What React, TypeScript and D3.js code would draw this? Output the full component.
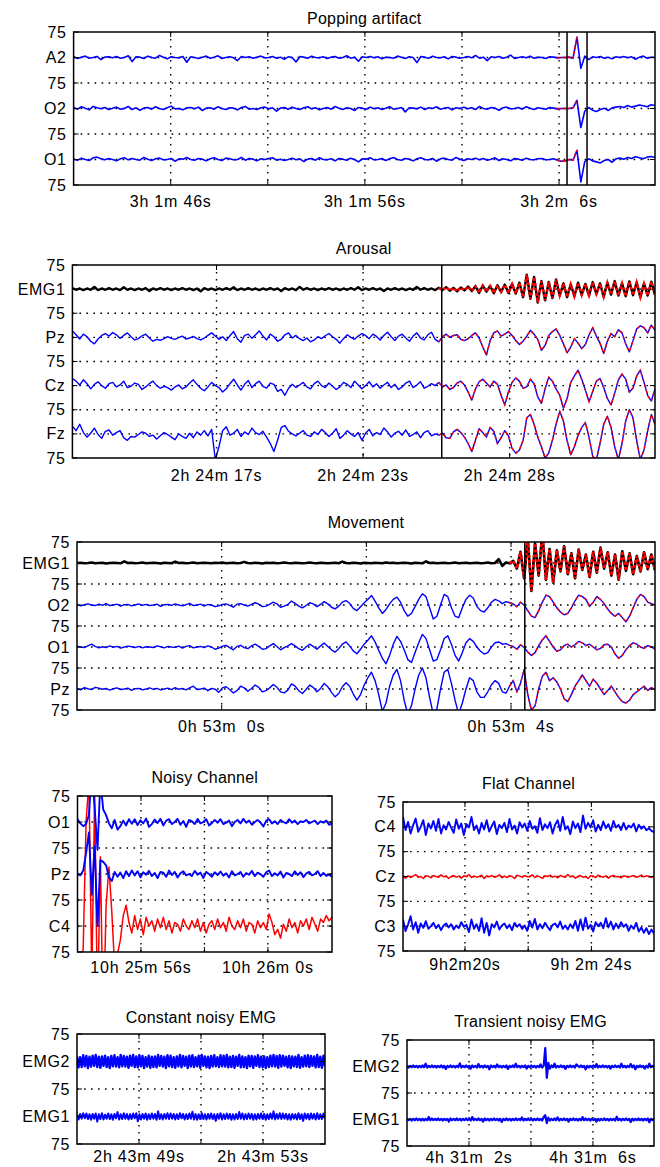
import * as d3 from "d3";
import { useEffect, useRef } from "react";

// ---------- Popping artifact (µV, channels top to bottom) ----------
const popChannels = ["A2", "O2", "O1"];
const popTicks = [5, 10, 15, 20, 25];
const popTickLabels = ["3h 1m 46s", "", "3h 1m 56s", "", "3h 2m  6s"];
const popMarkers = [25.41, 26.44];
const popA2 = [
  2, -3, 1, 4, -2, 0, 3, -6, 1, 2,
  -1, 3, -2, 0, 5, -12, 2, 1, -3, 4,
  0, -2, 6, 1, -4, 2, 0, -1, 3, -14,
  2, 0, -3, 1, 4, -2, 1, 5, -3, 0,
  2, -1, -9, 3, 0, 2, -2, 1, 4, -1,
  0, 3, -2, 1, -5, 2, 0, -13, 3, 1,
  -2, 4, 0, -1, 2, -3, 1, 3, -2, 0,
  5, -2, 1, -11, 2, 0, 3, -1, 2, -4,
  1, 0, -2, 4, 1, -3, 2, 0, -15, 3,
  1, -2, 4, 0, -1, 2, -4, 3, 1, -2,
  0, 3, -1, 6, -2, 1, -9, 2, 0, 3,
  -2, 1, 7, -3, 0, 2, -1, 4, -2, 1,
  0, -3, 2, 1, -1, 0, 0, 1, -2, 60,
  -32, 4, -6, 2, 0, 3, -2, 1, -4, 2,
  0, 3, -1, 2, -5, 1, 4, -2, 1, 0,
];
const popO2 = [
  3, -2, 5, 1, -4, 6, 2, -1, 3, -3,
  1, 4, -2, 0, 6, -3, 2, -5, 1, 3,
  -2, 5, 0, -3, 2, 7, -1, 0, -4, 2,
  3, -1, 4, -6, 1, 2, -2, 5, 0, -3,
  2, 1, -4, 3, 6, -2, 0, -3, 2, 4,
  -1, 2, -8, 1, 3, -2, 4, 0, -3, 2,
  5, -1, 2, -4, 0, 3, -2, 6, 1, -3,
  2, 0, -6, 3, 1, -2, 4, -1, 2, -3,
  1, 5, -2, 0, 3, -10, 2, 1, -1, 4,
  -3, 2, 0, 5, -2, 1, 3, -4, 2, 0,
  4, -1, 2, -3, 6, 0, -2, 3, 1, -5,
  2, 4, -1, 0, 3, -2, 5, 1, -3, 2,
  0, -2, 3, 1, -1, 0, 0, 0, 2, 24,
  -56, -8, 3, -5, -9, -3, 1, -6, 2, 4,
  6, 3, 9, 4, 7, 10, 8, 5, 11, 9,
];
const popO1 = [
  1, -2, 4, 0, -3, 5, 7, 2, -1, 3,
  0, -4, 2, 5, -1, 3, 0, -2, 6, 1,
  -3, 2, 4, -1, 0, 3, -5, 2, 1, 6,
  0, -2, 3, 1, -4, 2, 5, 0, -3, 4,
  2, -1, 0, 6, -2, 3, 1, -4, 2, 0,
  3, 5, -2, 1, -3, 0, 4, -1, 2, -6,
  1, 3, -2, 5, 0, -1, 2, -4, 3, 1,
  -2, 4, 0, -7, 2, 1, 5, -1, 0, 3,
  -3, 2, 6, 0, -2, 3, 1, -4, 2, 5,
  0, -1, 3, -5, 2, 4, 0, -2, 6, 1,
  -3, 2, 0, 4, -1, 3, -2, 1, 5, -3,
  2, 0, -4, 3, 1, -2, 4, 0, -1, 2,
  3, -1, 0, 2, -2, -5, -4, 0, -2, 27,
  -66, -6, 2, -4, -7, -10, -3, 0, -8, 2,
  4, 1, 6, 3, 8, 5, 2, 7, 9, 6,
];

// ---------- Arousal ----------
const arChannels = ["EMG1", "Pz", "Cz", "Fz"];
const arTicks = [5.9, 11.9, 17.9];
const arTickLabels = ["2h 24m 17s", "2h 24m 23s", "2h 24m 28s"];
const arMarkers = [15.12];
const arEMG1 = [
  3, -2, 2, -3, 2, -2, 7, -3, 2, -2,
  3, -2, 2, -3, 6, -2, 2, -3, 2, -2,
  3, -6, 2, -2, 3, -2, 2, -3, 2, -2,
  3, -2, 2, -3, 2, -7, 3, -2, 2, -3,
  2, -2, 3, -2, 6, -3, 2, -2, 3, -2,
  2, -3, 2, -2, 3, -2, 2, -6, 3, -2,
  2, -3, 7, -2, 3, -2, 2, -3, 2, -2,
  3, -2, 2, -3, 2, -2, 3, -2, 6, -3,
  2, -2, 3, -2, 2, -6, 2, -2, 3, -2,
  2, -3, 2, -2, 7, -2, 3, -2, 2, -3,
  4, -3, 6, -5, 4, -7, 5, -4, 8, -6,
  9, -12, 11, -8, 10, -13, 12, -9, 14, -12,
  16, -14, 20, -25, 45, -30, 38, -42, 25, -35,
  22, -28, 30, -20, 18, -25, 15, -22, 20, -18,
  16, -20, 22, -15, 18, -24, 20, -17, 25, -20,
  18, -22, 24, -19, 21, -25, 17, -20, 23, -18,
];
const arPz = [
  20, 8, -5, 10, 2, -12, -20, -5, 6, 12,
  4, 15, 8, -3, 6, 14, 2, -8, -4, 5,
  10, -2, -12, -6, -9, -4, 2, -3, -6, -1,
  4, -5, -2, 3, -4, -8, -2, 6, 14, 4,
  -6, 2, -10, 5, 18, -4, -15, 6, 10, -3,
  8, 20, 4, -8, 10, 2, -12, -6, 8, 14,
  -2, 6, -4, -10, -2, -14, -8, 2, -4, 5,
  12, 2, -6, -18, -4, 8, 0, -6, 4, 12,
  6, -4, 10, 3, -8, 6, 16, 2, -10, 4,
  10, -2, -12, 4, 14, -2, -8, 8, 16, -6,
  -14, 2, 10, 0, 6, 8, -6, -10, -4, 6,
  14, -2, -30, -55, -10, 14, 20, 4, 10, 18,
  6, -10, -22, -12, 4, 22, 10, -6, -40, -25,
  6, 18, 26, 6, -20, -48, -30, -4, -18, -35,
  -22, 8, 30, 4, -18, -50, -12, 12, 2, 24,
  14, -20, -45, -10, 26, 36, 30, 14, 38, 22,
];
const arCz = [
  22, 14, 2, 18, 6, -10, 4, 12, 0, -8,
  6, 10, -4, 2, 14, -6, -2, 8, 4, -12,
  -4, 6, 14, 0, -8, -2, -6, -14, -4, 2,
  -10, -4, 8, 18, 4, -8, -16, -4, 10, 0,
  -6, -20, -10, 6, 20, 2, -14, 4, 16, -6,
  6, 14, -2, -8, 8, 4, -18, -12, -30, -8,
  4, -6, 2, 10, -4, -10, 6, 14, 0, -6,
  8, -2, -12, -4, 10, 4, -6, 14, 2, -10,
  0, 12, -4, 6, -8, 2, 10, -6, 4, -12,
  -4, 8, 14, -6, 2, 12, -8, -2, 6, 0,
  10, -4, 2, -12, -6, 8, 14, 2, -20, -45,
  -10, 12, 20, 8, -4, 14, 4, -30, -60, -20,
  10, 24, 14, -8, -4, 20, 6, -35, -55, -10,
  26, 14, -10, -30, -70, -40, 10, 30, 48, 20,
  -14, -50, -18, 14, 22, -6, -40, -60, -24, 18,
  36, 20, -20, -8, 30, 48, 10, -30, -48, -10,
];
const arFz = [
  24, 10, 30, 4, -10, 2, 18, -2, -14, 8,
  12, -4, 4, 10, -12, -20, -8, -10, -2, 6,
  2, -8, -4, -16, -6, 4, -2, -10, -18, 0,
  -8, -14, 2, -12, 6, -4, 10, -6, 14, -80,
  -40, 10, 22, -4, 2, 14, -8, 6, -2, 18,
  4, -2, 8, -10, -30, -55, -20, 20, 26, 8,
  0, -6, 2, 10, -4, -8, 6, -2, 14, 4,
  -8, 2, 16, -14, -4, 10, 0, -8, 4, -20,
  2, 14, -6, 4, -2, 18, 6, -10, 2, 8,
  -4, 12, -8, -2, 6, -12, 4, 10, -6, 0,
  -4, 2, -12, -14, 6, 14, 4, -10, -30, -55,
  -20, 16, 4, -10, 20, 8, -30, -12, 10, -6,
  -45, -60, -50, -20, 50, 60, 30, -10, -40, -75,
  -60, -20, 30, 70, 40, -20, -65, -40, -5, 20,
  35, -10, -70, -80, -30, 30, 55, 20, -40, -80,
  -30, 40, 75, 50, -20, -80, -50, 10, 60, 30,
];

// ---------- Movement ----------
const mvChannels = ["EMG1", "O2", "O1", "Pz"];
const mvTicks = [2, 4, 6];
const mvTickLabels = ["0h 53m  0s", "", "0h 53m  4s"];
const mvMarkers = [6.19];
const mvEMG1 = [
  0, 1, -1, 0, 2, -1, 0, 1, -2, 0,
  1, 0, -1, 6, 0, 1, -1, 0, 2, -1,
  0, 1, 0, -2, 1, 0, -1, 5, 0, 1,
  -1, 0, 2, -1, 0, 1, 0, -1, 1, 0,
  2, -1, 0, 1, -1, 0, 4, 0, -1, 1,
  0, -2, 1, 0, 1, -1, 0, 2, 0, -1,
  1, 0, -1, 0, 2, 0, -1, 1, 0, -1,
  0, 1, -1, 5, 0, -1, 1, 0, -2, 1,
  0, -1, 1, 0, -1, 2, 0, 1, -1, 0,
  1, 0, -2, 1, 0, -1, 6, 0, 1, -1,
  0, 1, -1, 0, 2, -1, 0, 1, -1, 0,
  1, -1, 0, 2, -1, 0, 14, -10, 2, -1,
  8, -20, 40, -55, 90, -100, 70, -45, 110, -60,
  50, -70, 45, -30, 60, -40, 35, -55, 48, -25,
  30, -50, 40, -35, 55, -20, 38, -45, 30, -60,
  42, -28, 35, -40, 25, -30, 38, -22, 30, -26,
];
const mvO2 = [
  2, -3, 1, 4, 0, -2, 3, -1, 5, -2,
  0, 3, -4, 1, 2, -3, 0, 4, -1, 2,
  -2, 0, 3, -5, 1, 2, -1, 4, 0, -3,
  1, 6, -2, 0, 3, -4, 2, 0, -6, -3,
  2, 4, -1, -8, 3, 5, 0, -4, 2, 8,
  3, -6, -4, 2, 10, 4, -8, -4, 2, 14,
  6, -4, -10, -2, 8, 4, -6, 2, 12, 4,
  -8, -14, -4, 10, 16, 6, -12, -20, -6, 8,
  20, 34, 14, -10, -30, -16, 4, 20, 28, 10,
  -20, -40, -30, -6, 20, 40, 30, -10, -50, -40,
  0, 38, 30, -10, -40, -45, -10, 20, 35, 25,
  -5, -20, -25, -10, 10, 20, 15, 5, 12, 8,
  4, -6, 10, 0, -20, -40, -45, -20, 10, 35,
  30, 10, -10, -25, -35, -30, -10, 15, 35, 30,
  20, -5, 10, 30, 20, 5, -15, -30, -40, -30,
  -45, -60, -40, -10, 20, 38, 30, 10, 5, 0,
];
const mvO1 = [
  3, 0, -2, 4, 10, 2, -3, 1, -2, 4,
  -1, 2, -4, 0, 3, 1, -2, 2, -3, 1,
  0, -2, 4, 1, -3, 2, 0, -1, 3, -4,
  2, 5, -3, 0, 2, -2, 4, 0, -8, -4,
  3, 6, -2, -10, 2, 6, -2, -6, 4, 10,
  2, -8, -6, 4, 12, 2, -10, -2, 4, 12,
  4, -6, -12, 0, 10, 2, -8, 4, 14, 2,
  -10, -18, -6, 10, 18, 4, -14, -24, -8, 10,
  24, 40, 18, -12, -40, -60, -30, 10, 38, 20,
  -10, -45, -55, -20, 15, 45, 30, -10, -50, -45,
  -10, 30, 40, 10, -30, -50, -20, 15, 30, 20,
  0, -15, -25, -20, 0, 15, 18, 10, 12, 6,
  2, -8, 8, -2, -18, -30, -20, 5, 25, 40,
  20, 0, -15, -10, 5, 10, 0, 8, 20, 15,
  5, 10, 0, -10, -5, 8, 10, 0, -25, -40,
  -30, -10, 5, 15, 10, 0, -5, 5, 0, -8,
];
const mvPz = [
  2, -3, 5, 1, -2, 6, 3, -1, 2, -4,
  1, 4, -2, 0, 3, -5, 1, 2, -3, 0,
  4, -1, 2, -3, 0, 3, -2, 5, -1, 2,
  -3, 4, 10, -2, 0, 3, -6, 2, -1, -12,
  4, 8, -2, -14, -6, 10, 4, -8, 2, 14,
  6, -10, -6, 4, 16, 6, -10, -14, -4, 18,
  10, -6, -16, -2, 14, 6, -10, 2, 20, 8,
  -12, -28, -16, 8, 22, 10, -18, -40, -20, 14,
  40, 60, 30, -20, -80, -50, 10, 50, 70, 30,
  -40, -90, -60, 0, 50, 75, 40, -30, -90, -70,
  0, 60, 70, 20, -40, -90, -50, 0, 40, 30,
  -10, -30, -30, -10, 15, 30, 20, -10, -15, 10,
  30, -10, 20, 70, -20, -75, -60, 0, 45, 60,
  30, 40, 25, 0, -35, -45, -20, 10, 30, 50,
  30, 10, 35, 20, 0, -20, -5, 10, -10, -30,
  -45, -50, -40, -20, -10, 0, 10, -5, 5, -3,
];

// ---------- Noisy Channel ----------
const nzChannels = ["O1", "Pz", "C4"];
const nzTicks = [2, 4, 6];
const nzTickLabels = ["10h 25m 56s", "", "10h 26m 0s"];
const nzO1 = [
  8, -4, -12, -6, 20, 150, 40, -80, 120, 36,
  20, -4, -18, 6, -22, -12, 4, -10, 8, -5,
  8, -9, 5, -4, 10, -14, -6, 7, -3, 9,
  -10, 4, 8, -6, 0, 9, -8, 3, -14, 6,
  2, -6, 9, -4, 0, 8, -10, -3, 6, -2,
  8, -6, -2, 4, -12, 0, 6, -4, 9, -2,
  4, -8, 0, 6, -2, -13, 4, 8, -4, 2,
  -6, 6, 0, -4, 8, -2, 4, -6, 2, 0,
  6, -4, 0, 4, -6, 2, -2, 4, -8, -4,
];
const nzPz = [
  0, -4, 10, 60, 120, -60, 80, -150, 40, 35,
  25, -10, -20, 6, -8, 4, -12, 8, -6, 10,
  -4, 8, -10, 5, -2, 9, -6, 3, -12, 6,
  4, -8, 10, -3, 6, -10, 2, 8, -4, 0,
  -6, 9, -2, 4, -12, 6, 0, -8, 5, -3,
  7, -5, 2, -10, 8, -4, 0, 6, -8, 3,
  -2, 9, -6, 4, -1, -8, 5, 10, -6, 2,
  -4, 7, -10, 3, 0, -6, 8, -3, 5, -9,
  2, 6, -4, 0, 8, -6, 3, -5, -2, -8,
];
const nzC4 = [
  -120, -220, -60, 300, 420, -150, 380, -250, 200, -300,
  60, 170, 40, -120, -80, -40, 30, 60, 10, -20,
  30, -10, 20, -25, 25, 0, 15, -15, 20, -5,
  25, -10, 15, -20, 10, 5, -15, 20, 0, -10,
  15, -5, 20, -15, 10, -20, 5, 15, -10, 20,
  -5, 10, -15, 25, 0, -10, 15, -5, 20, -15,
  10, 5, -20, 15, -5, 10, -10, 35, 10, -25,
  -10, -35, 5, -15, 20, -5, 10, -20, 15, 0,
  20, -10, 25, 5, -15, 20, 10, 30, 15, 25,
];

// ---------- Flat Channel ----------
const flChannels = ["C4", "Cz", "C3"];
const flTicks = [1.96, 3.96, 5.96];
const flTickLabels = ["9h2m20s", "", "9h 2m 24s"];
const flC4 = [
  30, -10, 15, -20, 5, 25, -15, 0, 20, -25,
  10, -5, 18, -12, 24, -20, 5, -8, 15, -3,
  -18, 22, -6, 10, -25, 8, -2, 30, -10, 4,
  -20, 12, -8, 20, -14, 2, 16, -22, 6, -4,
  12, -16, 24, -8, 4, -20, 14, -2, 10, -12,
  18, -6, 2, -18, 26, -10, 8, -4, 14, -20,
  6, 20, -12, 30, -8, 2, -22, 16, -4, 10,
  -16, 34, -6, 12, -2, 20, -14, 6, -10, 16,
  -4, 8, -12, 18, -2, 6, -10, 12, -8, 4,
  -2, 10, -14, 6, -6, 2, -10, -4, -12, -16,
];
const flCz = [
  0, -5, 2, -3, 1, 6, -2, 0, -6, 2,
  1, -4, 3, 0, -2, 5, -1, 2, -6, 0,
  3, -2, 1, -5, 2, 0, 6, -3, 1, -2,
  0, 4, -6, 2, -1, 3, -2, 0, 5, -4,
  1, -3, 2, 0, -6, 4, 1, -2, 3, -1,
  0, 5, -3, 2, -1, -6, 2, 0, 4, -2,
  1, -4, 3, 0, -2, 6, -1, 2, -5, 0,
  3, -2, 0, -6, 2, 1, -3, 4, 0, -2,
  2, -5, 1, 3, -1, 0, -4, 2, 0, -2,
  1, 3, -2, 0, 4, -1, 2, 0, -3, 1,
];
const flC3 = [
  20, -15, 5, 30, -10, 12, -20, 8, -5, 15,
  -8, 0, 10, -6, 4, -12, 2, 8, -4, 6,
  -10, 2, -6, 12, -2, 4, -18, 20, -8, 6,
  -14, 24, -20, 10, -28, 6, -4, 14, -10, 2,
  8, -6, 4, -12, 10, -2, 6, -8, 2, -14,
  16, -4, 22, -10, 6, -6, 10, -2, -12, 4,
  8, -4, 14, -8, 2, -10, 6, -6, 16, -14,
  20, -12, 26, -8, 4, -16, 12, 0, 10, -6,
  24, -4, 14, -10, 8, -6, 12, -2, 6, -14,
  2, -8, 10, -16, -4, -20, -6, -24, -10, -22,
];

// ---------- Constant noisy EMG ----------
const ceChannels = ["EMG2", "EMG1"];
const ceTicks = [2, 4, 6];
const ceTickLabels = ["2h 43m 49s", "", "2h 43m 53s"];
const ceEMG2 = [
  14, -16, 12, -15, 17, -13, 15, -18, 13, -14,
  16, -12, 18, -15, 13, -17, 14, -12, 16, -15,
  12, -18, 15, -13, 17, -14, 12, -16, 18, -13,
  15, -14, 13, -17, 16, -12, 18, -15, 14, -16,
  17, -13, 15, -18, 12, -14, 16, -17, 13, -15,
  14, -16, 18, -12, 15, -14, 13, -18, 17, -13,
  16, -15, 12, -17, 14, -13, 18, -16, 15, -12,
  13, -18, 16, -14, 17, -15, 12, -13, 16, -17,
  18, -12, 14, -16, 13, -18, 15, -14, 17, -13,
  12, -15, 17, -13, 16, -14, 18, -16, 13, -15,
  15, -17, 13, -12, 18, -16, 14, -15, 12, -18,
  16, -13, 15, -17, 14, -12, 17, -15, 13, -16,
  14, -18, 12, -15, 16, -13, 18, -14, 15, -17,
  17, -14, 16, -12, 13, -16, 15, -18, 14, -13,
  13, -15, 18, -17, 12, -14, 16, -13, 17, -15,
  15, -12, 14, -16, 18, -15, 13, -17, 16, -14,
];
const ceEMG1 = [
  6, -8, 7, -6, 9, -5, 8, -7, 6, -9,
  7, -6, 8, -14, 6, -7, 9, -8, 5, -6,
  8, -7, 6, -9, 7, -5, 12, -8, 6, -7,
  9, -6, 7, -8, 6, -7, 8, -5, 9, -13,
  6, -8, 7, -6, 8, -9, 6, -7, 8, -6,
  7, -9, 14, -7, 6, -8, 7, -6, 9, -7,
  8, -6, 7, -8, 6, -7, 9, -5, 7, -8,
  6, -7, 8, -6, 13, -8, 7, -9, 6, -7,
  9, -7, 6, -8, 7, -6, 8, -7, 6, -12,
  7, -6, 9, -8, 6, -7, 8, -6, 7, -9,
  6, -8, 7, -7, 12, -6, 8, -8, 6, -7,
  8, -6, 7, -9, 6, -8, 7, -6, 8, -7,
  7, -9, 6, -7, 8, -6, 14, -8, 7, -6,
  9, -7, 8, -6, 7, -8, 6, -9, 7, -6,
  6, -8, 9, -7, 6, -12, 8, -6, 7, -8,
  8, -6, 7, -8, 9, -7, 6, -7, 8, -6,
];

// ---------- Transient noisy EMG ----------
const trChannels = ["EMG2", "EMG1"];
const trTicks = [2, 4, 6];
const trTickLabels = ["4h 31m  2s", "", "4h 31m  6s"];
const trEMG2 = [
  2, -3, 2, -2, 3, -2, 2, -3, 2, -2,
  3, -2, 8, -3, 2, -2, 3, -2, 2, -3,
  2, -2, 3, -3, 2, -7, 2, -2, 3, -2,
  2, -3, 2, -2, 9, -3, 2, -2, 3, -2,
  2, -6, 3, -2, 2, -3, 7, -2, 2, -3,
  3, -2, 2, -8, 3, -2, 2, -3, 6, -2,
  2, -3, 2, -2, 3, -7, 2, -2, 3, -2,
  8, -2, 2, -3, 2, -2, 3, -6, 2, -2,
  3, -2, 2, -3, 2, -2, 6, -3, 2, 52,
  -32, 10, -6, 3, -2, 8, -3, 2, -2, 3,
  -2, 2, -7, 2, -2, 3, -2, 2, -3, 6,
  2, -2, 3, -2, 2, -8, 2, -3, 2, -2,
  3, -2, 7, -3, 2, -2, 3, -2, 2, -3,
  2, -6, 2, -2, 3, -2, 2, -3, 8, -2,
  2, -3, 2, -2, 7, -2, 3, -8, 2, -2,
  3, -2, 2, -6, 2, -3, 8, -2, 2, -3,
];
const trEMG1 = [
  3, -2, 2, -3, 2, -2, 3, -2, 2, -3,
  2, -3, 2, -2, 7, -2, 3, -2, 2, -2,
  3, -2, 2, -3, 2, -2, 2, -6, 3, -2,
  2, -2, 3, -2, 2, -3, 2, -2, 3, -2,
  2, -3, 7, -2, 2, -2, 3, -2, 2, -6,
  3, -2, 2, -3, 2, -2, 3, -2, 2, -3,
  2, -7, 2, -2, 3, -2, 2, -3, 2, -2,
  3, -2, 2, -2, 6, -3, 2, -2, 3, -2,
  2, -3, 2, -2, 3, -2, 2, -3, 7, 12,
  -10, 5, -3, 2, -2, 3, -2, 6, -3, 2,
  -2, 3, -2, 2, -6, 2, -2, 3, -2, 2,
  -3, 2, -2, 7, -2, 3, -2, 2, -3, 2,
  -2, 2, -6, 2, -3, 2, -2, 3, -2, 2,
  -3, 2, -2, 2, -3, 8, -2, 2, -3, 2,
  -2, 3, -2, 2, -7, 2, -3, 2, -2, 3,
  -2, 2, -3, 2, -2, 3, -8, 2, -2, 3,
];

const BLUE = "#0000ff";
const RED = "#ff0000";
const FONT = "'Liberation Sans', Arial, Helvetica, sans-serif";

type Overlay = { from: number; to: number; color: string; dash?: string };
type Trace = { ch: number; values: number[]; color: string; w?: number; over?: Overlay };
type Panel = {
  title: string; titleY: number;
  left: number; right: number; top: number; bottom: number;
  duration: number; channels: string[];
  ticks: number[]; tickLabels: string[]; labelY: number;
  markers: number[]; traces: Trace[];
};

const panels: Panel[] = [
  {
    title: "Popping artifact", titleY: 18,
    left: 73.6, right: 655, top: 32, bottom: 185, duration: 29.94,
    channels: popChannels, ticks: popTicks, tickLabels: popTickLabels, labelY: 201,
    markers: popMarkers,
    traces: [
      { ch: 0, values: popA2, color: BLUE, w: 1.6, over: { from: 25.0, to: 26.1, color: RED, dash: "3 2" } },
      { ch: 1, values: popO2, color: BLUE, w: 1.6, over: { from: 25.0, to: 26.1, color: RED, dash: "3 2" } },
      { ch: 2, values: popO1, color: BLUE, w: 1.6, over: { from: 25.0, to: 26.1, color: RED, dash: "3 2" } },
    ],
  },
  {
    title: "Arousal", titleY: 248,
    left: 72.4, right: 655, top: 265, bottom: 458, duration: 23.85,
    channels: arChannels, ticks: arTicks, tickLabels: arTickLabels, labelY: 475,
    markers: arMarkers,
    traces: [
      { ch: 0, values: arEMG1, color: "#000", w: 2.4, over: { from: 15.12, to: 99, color: RED, dash: "3 2" } },
      { ch: 1, values: arPz, color: BLUE, w: 1.4, over: { from: 15.12, to: 99, color: RED, dash: "3 3" } },
      { ch: 2, values: arCz, color: BLUE, w: 1.4, over: { from: 15.12, to: 99, color: RED, dash: "3 3" } },
      { ch: 3, values: arFz, color: BLUE, w: 1.4, over: { from: 15.12, to: 99, color: RED, dash: "3 3" } },
    ],
  },
  {
    title: "Movement", titleY: 522,
    left: 77, right: 655, top: 542, bottom: 710, duration: 7.99,
    channels: mvChannels, ticks: mvTicks, tickLabels: mvTickLabels, labelY: 726,
    markers: mvMarkers,
    traces: [
      { ch: 0, values: mvEMG1, color: "#000", w: 2.6, over: { from: 6.0, to: 99, color: RED, dash: "3 2" } },
      { ch: 1, values: mvO2, color: BLUE, w: 1.4, over: { from: 6.0, to: 99, color: RED, dash: "3 3" } },
      { ch: 2, values: mvO1, color: BLUE, w: 1.4, over: { from: 6.0, to: 99, color: RED, dash: "3 3" } },
      { ch: 3, values: mvPz, color: BLUE, w: 1.4, over: { from: 6.0, to: 99, color: RED, dash: "3 3" } },
    ],
  },
  {
    title: "Noisy Channel", titleY: 777,
    left: 77.5, right: 332, top: 796, bottom: 952, duration: 8.02,
    channels: nzChannels, ticks: nzTicks, tickLabels: nzTickLabels, labelY: 967,
    markers: [],
    traces: [
      { ch: 2, values: nzC4, color: RED, w: 1.5 },
      { ch: 0, values: nzO1, color: BLUE, w: 1.9 },
      { ch: 1, values: nzPz, color: BLUE, w: 1.9 },
    ],
  },
  {
    title: "Flat Channel", titleY: 783,
    left: 403, right: 654, top: 802, bottom: 951, duration: 7.94,
    channels: flChannels, ticks: flTicks, tickLabels: flTickLabels, labelY: 964,
    markers: [],
    traces: [
      { ch: 0, values: flC4, color: BLUE, w: 1.9 },
      { ch: 1, values: flCz, color: RED, w: 1.5 },
      { ch: 2, values: flC3, color: BLUE, w: 1.9 },
    ],
  },
  {
    title: "Constant noisy EMG", titleY: 1017,
    left: 77, right: 325, top: 1034, bottom: 1144, duration: 8.0,
    channels: ceChannels, ticks: ceTicks, tickLabels: ceTickLabels, labelY: 1156,
    markers: [],
    traces: [
      { ch: 0, values: ceEMG2, color: BLUE, w: 2.4 },
      { ch: 1, values: ceEMG1, color: BLUE, w: 2 },
    ],
  },
  {
    title: "Transient noisy EMG", titleY: 1021,
    left: 407, right: 654, top: 1040, bottom: 1146, duration: 7.97,
    channels: trChannels, ticks: trTicks, tickLabels: trTickLabels, labelY: 1157,
    markers: [],
    traces: [
      { ch: 0, values: trEMG2, color: BLUE, w: 2.2 },
      { ch: 1, values: trEMG1, color: BLUE, w: 2.2 },
    ],
  },
];

function drawPanel(svg: any, p: Panel, k: number) {
  const n = p.channels.length;
  const x = d3.scaleLinear().domain([0, p.duration]).range([p.left, p.right]);
  const y = d3.scaleLinear().domain([0, n * 150]).range([p.bottom, p.top]);
  const yTicks = d3.range(0, n * 150 + 1, 75);

  const g = svg.append("g");
  const clipId = `clip-${k}`;
  g.append("clipPath").attr("id", clipId)
    .append("rect")
    .attr("x", p.left).attr("y", p.top)
    .attr("width", p.right - p.left).attr("height", p.bottom - p.top);

  // dotted grid
  g.selectAll("line.hg").data(yTicks.slice(1, -1)).join("line")
    .attr("class", "hg")
    .attr("x1", p.left).attr("x2", p.right)
    .attr("y1", (d: number) => y(d)).attr("y2", (d: number) => y(d))
    .attr("stroke", "#000").attr("stroke-width", 1.4)
    .attr("stroke-dasharray", "1.6 5.4");
  g.selectAll("line.vg").data(p.ticks).join("line")
    .attr("class", "vg")
    .attr("x1", (d: number) => x(d)).attr("x2", (d: number) => x(d))
    .attr("y1", p.top).attr("y2", p.bottom)
    .attr("stroke", "#000").attr("stroke-width", 1.4)
    .attr("stroke-dasharray", "1.6 5.4");

  // traces
  const plot = g.append("g").attr("clip-path", `url(#${clipId})`);
  p.traces.forEach((tr) => {
    const base = n * 150 - 75 - 150 * tr.ch;
    const step = p.duration / (tr.values.length - 1);
    const line = d3.line<number>()
      .x((_, i) => x(i * step))
      .y((v) => y(base + v));
    plot.append("path")
      .attr("d", line(tr.values))
      .attr("fill", "none")
      .attr("stroke", tr.color)
      .attr("stroke-width", tr.w ?? 1.3)
      .attr("stroke-linejoin", "round");
    if (tr.over) {
      const o = tr.over;
      const seg = d3.line<number>()
        .defined((_, i) => i * step >= o.from - step && i * step <= o.to)
        .x((_, i) => x(i * step))
        .y((v) => y(base + v));
      plot.append("path")
        .attr("d", seg(tr.values))
        .attr("fill", "none")
        .attr("stroke", o.color)
        .attr("stroke-width", tr.w ?? 1.3)
        .attr("stroke-dasharray", o.dash ?? null);
    }
  });

  // event markers
  g.selectAll("line.mk").data(p.markers).join("line")
    .attr("class", "mk")
    .attr("x1", (d: number) => x(d)).attr("x2", (d: number) => x(d))
    .attr("y1", p.top).attr("y2", p.bottom)
    .attr("stroke", "#000").attr("stroke-width", 1.5);

  // ticks inside the box
  yTicks.forEach((d) => {
    g.append("line").attr("x1", p.left).attr("x2", p.left + 5)
      .attr("y1", y(d)).attr("y2", y(d)).attr("stroke", "#000");
    g.append("line").attr("x1", p.right - 5).attr("x2", p.right)
      .attr("y1", y(d)).attr("y2", y(d)).attr("stroke", "#000");
  });
  p.ticks.forEach((d) => {
    g.append("line").attr("x1", x(d)).attr("x2", x(d))
      .attr("y1", p.bottom - 5).attr("y2", p.bottom).attr("stroke", "#000");
    g.append("line").attr("x1", x(d)).attr("x2", x(d))
      .attr("y1", p.top).attr("y2", p.top + 5).attr("stroke", "#000");
  });

  // frame
  g.append("rect")
    .attr("x", p.left).attr("y", p.top)
    .attr("width", p.right - p.left).attr("height", p.bottom - p.top)
    .attr("fill", "none").attr("stroke", "#000").attr("stroke-width", 1.5);

  // y labels: "75" at band edges, channel names at centres
  g.selectAll("text.yl").data(yTicks).join("text")
    .attr("class", "yl")
    .attr("x", p.left - 7)
    .attr("y", (d: number) => y(d))
    .attr("dy", "0.35em")
    .attr("text-anchor", "end")
    .style("font-family", FONT).style("font-size", "16px").style("letter-spacing", "0.6px")
    .text((_: number, i: number) => (i % 2 === 0 ? "75" : p.channels[(2 * n - 1 - i) / 2]));

  // x labels
  g.selectAll("text.xl").data(p.ticks).join("text")
    .attr("class", "xl")
    .attr("x", (d: number) => x(d))
    .attr("y", p.labelY)
    .attr("dy", "0.35em")
    .attr("text-anchor", "middle")
    .style("font-family", FONT).style("font-size", "16px").style("letter-spacing", "0.8px")
    .style("white-space", "pre")
    .text((_: number, i: number) => p.tickLabels[i]);

  // title
  g.append("text")
    .attr("x", (p.left + p.right) / 2)
    .attr("y", p.titleY)
    .attr("dy", "0.35em")
    .attr("text-anchor", "middle")
    .style("font-family", FONT).style("font-size", "16px").style("letter-spacing", "0.2px")
    .text(p.title);
}

export default function App() {
  const ref = useRef<SVGSVGElement>(null);

  useEffect(() => {
    const svg = d3.select(ref.current);
    svg.selectAll("*").remove();
    panels.forEach((p, k) => drawPanel(svg, p, k));
  }, []);

  return (
    <svg
      ref={ref}
      width={660}
      height={1167}
      style={{ position: "absolute", left: 0, top: 0, background: "#fff" }}
    />
  );
}
